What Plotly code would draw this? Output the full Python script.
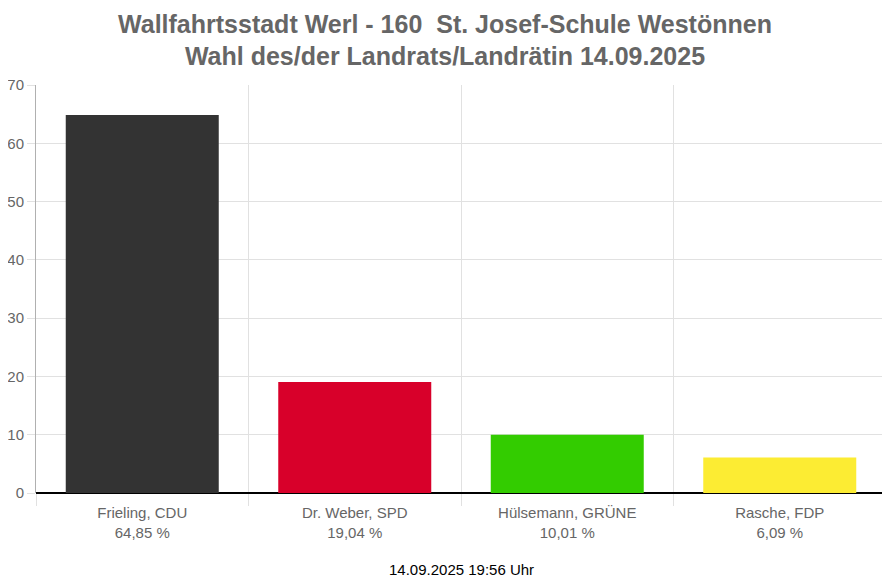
import plotly.graph_objects as go

candidates = ["Frieling, CDU", "Dr. Weber, SPD", "Hülsemann, GRÜNE", "Rasche, FDP"]
percents = [64.85, 19.04, 10.01, 6.09]
colors = ["#333333", "#d8002a", "#33cc00", "#fcec33"]
y_ticks = [0, 10, 20, 30, 40, 50, 60, 70]

title_text = "Wallfahrtsstadt Werl - 160&nbsp; St. Josef-Schule Westönnen<br>Wahl des/der Landrats/Landrätin 14.09.2025"
footer_text = "14.09.2025 19:56 Uhr"

xpos = list(range(len(candidates)))
labels = [f"{c}<br>" + f"{p:.2f}".replace(".", ",") + " %" for c, p in zip(candidates, percents)]
bounds = [i - 0.5 for i in xpos] + [xpos[-1] + 0.5]

grid = "#e1e1e1"
font = "Liberation Sans, Arial, sans-serif"

W, H = 882, 577  # page body has an 8px margin

fig = go.Figure(go.Bar(
    x=xpos, y=percents, width=0.72,
    marker=dict(color=colors, line=dict(width=0)),
    hoverinfo="skip",
))

fig.update_layout(
    width=W, height=H,
    margin=dict(l=28, r=4, t=77, b=92, autoexpand=False),
    paper_bgcolor="white", plot_bgcolor="white",
    showlegend=False,
    font=dict(family=font, size=15, color="#666666"),
    title=dict(text=title_text, x=437 / W, xref="container", xanchor="center",
               y=1 - 24.5 / H, yref="container", yanchor="middle",
               font=dict(family=font, size=25, color="#666666", weight="bold")),
    xaxis=dict(range=[bounds[0], bounds[-1]], tickvals=xpos, ticktext=labels,
               showgrid=False, ticks="outside", ticklen=6, tickcolor="rgba(0,0,0,0)",
               showline=False, zeroline=False, automargin=False,
               minor=dict(tickvals=bounds, showgrid=True, gridcolor=grid, gridwidth=1,
                          ticks="outside", ticklen=12, tickcolor=grid)),
    yaxis=dict(range=[0, 70], tickvals=y_ticks, showgrid=True, gridcolor=grid,
               ticks="outside", ticklen=8, tickcolor=grid, automargin=False,
               zeroline=True, zerolinecolor="#000000", zerolinewidth=1.5,
               showline=True, linecolor="#b0b0b0", linewidth=1),
    annotations=[dict(text=footer_text, x=0.5, xref="paper", xanchor="center",
                      y=-(569 - 493) / 408, yref="paper", yanchor="middle",
                      showarrow=False, font=dict(family=font, size=15, color="#000000"))],
)

fig.write_html("out.html")
